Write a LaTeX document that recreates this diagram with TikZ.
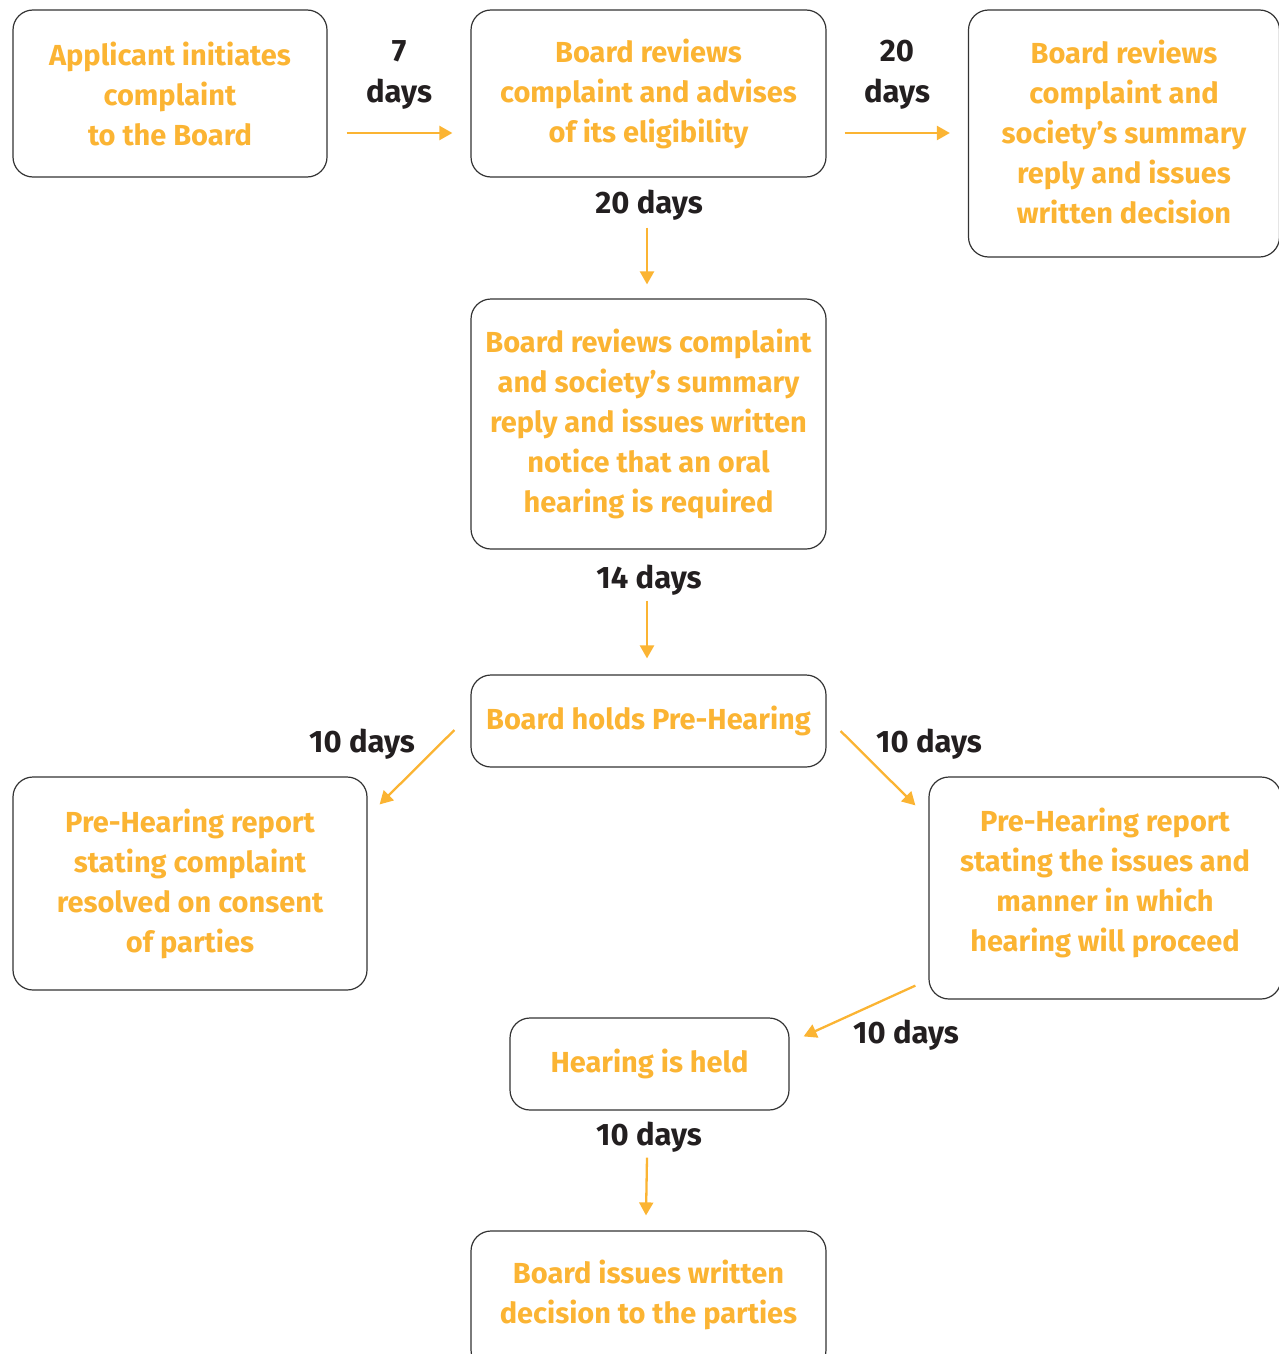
\documentclass[tikz,border=0pt]{standalone}
\usepackage{fontspec}
\setmainfont{Fira Sans}
\usetikzlibrary{arrows.meta}
\definecolor{boxtext}{HTML}{FBB433}
\definecolor{arrowc}{HTML}{FBB433}
\definecolor{labtext}{HTML}{231F20}
\definecolor{boxline}{HTML}{333333}
\begin{document}
\begin{tikzpicture}[x=1pt,y=-1pt,
  box/.style={draw=boxline,line width=1.2pt,rounded corners=20pt,inner sep=0pt,
    align=center,text=boxtext,font=\fontsize{29}{40}\selectfont\bfseries},
  lab/.style={inner sep=0pt,align=center,text=labtext,font=\fontsize{31}{41}\selectfont\bfseries},
  arr/.style={draw=arrowc,line width=2.3pt,-{Triangle[length=13pt,width=14pt]}}]
\useasboundingbox (0,0) rectangle (1279,1354);
\clip (0,0) rectangle (1279,1354);
% boxes
\node[box,minimum width=314pt,minimum height=167pt] (A) at (170,93.5)
  {Applicant initiates\\complaint\\to the Board};
\node[box,minimum width=355pt,minimum height=167pt] (B) at (648.5,93.5)
  {Board reviews\\complaint and advises\\of its eligibility};
\node[box,minimum width=311pt,minimum height=247pt,text depth=4pt] (C) at (1124,133.5)
  {Board reviews\\complaint and\\society’s summary\\reply and issues\\written decision};
\node[box,minimum width=355pt,minimum height=250pt] (D) at (648.5,424)
  {Board reviews complaint\\and society’s summary\\reply and issues written\\notice that an oral\\hearing is required};
\node[box,minimum width=355pt,minimum height=92pt] (E) at (648.5,721)
  {Board holds Pre-Hearing};
\node[box,minimum width=354pt,minimum height=213pt] (F) at (190,883.5)
  {Pre-Hearing report\\stating complaint\\resolved on consent\\of parties};
\node[box,minimum width=352pt,minimum height=222pt,text depth=17pt] (G) at (1105,888)
  {Pre-Hearing report\\stating the issues and\\manner in which\\hearing will proceed};
\node[box,minimum width=279pt,minimum height=92pt] (H) at (649.5,1064)
  {Hearing is held};
\node[box,minimum width=355pt,minimum height=139pt,text depth=17pt] (I) at (648.5,1300.5)
  {Board issues written\\decision to the parties};
% labels
\node[lab] (l1) at (399,75) {7\\days};
\node[lab] (l2) at (897,75) {20\\days};
\node[lab] (l3) at (649,205) {20 days};
\node[lab] (l4) at (649,580) {14 days};
\node[lab] (l5) at (362,744) {10 days};
\node[lab] (l6) at (929,744) {10 days};
\node[lab] (l7) at (906,1035) {10 days};
\node[lab] (l8) at (649,1137) {10 days};
% arrows
\draw[arr] ([xshift=19pt,yshift=-39.5pt]A.east) -- ([xshift=-18pt,yshift=-39.5pt]B.west);
\draw[arr] ([xshift=18pt,yshift=-39.5pt]B.east) -- ([xshift=-18pt,yshift=-39.5pt]C.west |- B.east);
\draw[arr] ([xshift=-1.5pt,yshift=-50pt]B.south) -- ([xshift=-1.5pt,yshift=14pt]D.north);
\draw[arr] ([xshift=-1.5pt,yshift=-51pt]D.south) -- ([xshift=-1.5pt,yshift=16pt]E.north);
\draw[arr] ([xshift=-16pt,yshift=-9pt]E.west) -- ([xshift=12pt,yshift=-28pt]F.north east);
\draw[arr] ([xshift=14pt,yshift=-10pt]E.east) -- ([xshift=-13pt,yshift=-29pt]G.north west);
\draw[arr] ([xshift=-13pt,yshift=14pt]G.south west) -- ([xshift=14pt,yshift=-19pt]H.north east);
\draw[arr] ([xshift=-2.5pt,yshift=-47pt]H.south) -- ([xshift=-2.5pt,yshift=15pt]I.north);
\end{tikzpicture}
\end{document}
